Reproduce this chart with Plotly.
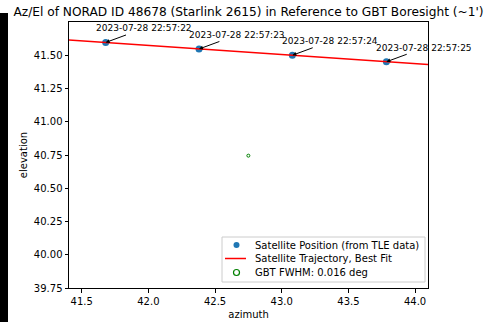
import numpy as np
import plotly.graph_objects as go

# ---- data ----
sat_az = [41.68, 42.38, 43.08, 43.785]
sat_el = [41.596, 41.547, 41.50, 41.451]
timestamps = ["2023-07-28 22:57:22", "2023-07-28 22:57:23",
              "2023-07-28 22:57:24", "2023-07-28 22:57:25"]
gbt_az = [42.75]
gbt_el = [40.745]
fwhm_deg = 0.016
x_range = [41.405, 44.097]
y_range = [39.75, 41.75]
x_ticks = [41.5, 42.0, 42.5, 43.0, 43.5, 44.0]
y_ticks = [39.75, 40.00, 40.25, 40.50, 40.75, 41.00, 41.25, 41.50]
legend_labels = ["Satellite Position (from TLE data)",
                 "Satellite Trajectory, Best Fit",
                 f"GBT FWHM: {fwhm_deg} deg"]

# best-fit trajectory
coef = np.polyfit(sat_az, sat_el, 1)
fit_x = np.array([41.3, 44.2])
fit_y = np.polyval(coef, fit_x)

FONT = "DejaVu Sans"
BLUE, RED, GREEN = "#1f77b4", "red", "green"
fig = go.Figure()

fig.add_trace(go.Scatter(x=sat_az, y=sat_el, mode="markers",
                         marker=dict(color=BLUE, size=7),
                         name=legend_labels[0]))
fig.add_trace(go.Scatter(x=fit_x, y=fit_y, mode="lines",
                         line=dict(color=RED, width=1.5),
                         name=legend_labels[1]))
fig.add_trace(go.Scatter(x=gbt_az, y=gbt_el, mode="markers",
                         marker=dict(symbol="circle-open", color=GREEN, size=3,
                                     line=dict(width=1, color=GREEN)),
                         name=legend_labels[2]))

for x, y, t in zip(sat_az, sat_el, timestamps):
    fig.add_annotation(x=x, y=y, text=t, showarrow=True, ax=38, ay=-14,
                       arrowhead=2, arrowsize=0.8, arrowwidth=1, arrowcolor="black",
                       font=dict(family=FONT, size=9, color="black"))

# layout geometry (pixels)
W, H = 487, 322
L, R, T, B = 69, 59, 22, 34
pw, ph = W - L - R, H - T - B


def px(xp):
    return (xp - L) / pw


def py(yp):
    return (H - B - yp) / ph


# black strip on left edge
fig.add_shape(type="rect", xref="paper", yref="paper",
              x0=px(0), x1=px(8), y0=py(323), y1=py(13),
              fillcolor="black", line=dict(width=0), layer="above")

# manual legend (matplotlib style)
fig.add_shape(type="rect", xref="paper", yref="paper",
              x0=px(222), x1=px(425), y0=py(282), y1=py(237),
              fillcolor="rgba(255,255,255,0.8)", line=dict(color="#cccccc", width=1),
              layer="above")
rows_y = [245, 258.5, 272.5]
mx = 236.5
fig.add_shape(type="circle", xref="paper", yref="paper", xsizemode="pixel", ysizemode="pixel",
              xanchor=px(mx), yanchor=py(rows_y[0]), x0=-3, x1=3, y0=-3, y1=3,
              fillcolor=BLUE, line=dict(width=0), layer="above")
fig.add_shape(type="line", xref="paper", yref="paper",
              x0=px(225), x1=px(246), y0=py(rows_y[1]), y1=py(rows_y[1]),
              line=dict(color=RED, width=1.5), layer="above")
fig.add_shape(type="circle", xref="paper", yref="paper", xsizemode="pixel", ysizemode="pixel",
              xanchor=px(mx), yanchor=py(rows_y[2]), x0=-3, x1=3, y0=-3, y1=3,
              fillcolor="white", line=dict(color=GREEN, width=1.2), layer="above")
for lab, ry in zip(legend_labels, rows_y):
    fig.add_annotation(xref="paper", yref="paper", x=px(253), y=py(ry), text=lab,
                       showarrow=False, xanchor="left", yanchor="middle",
                       font=dict(family=FONT, size=10, color="black"))

axis_common = dict(showline=True, linecolor="black", linewidth=1, mirror=True,
                   ticks="outside", ticklen=3.5, tickwidth=1, tickcolor="black",
                   showgrid=False, zeroline=False, automargin=False,
                   tickfont=dict(family=FONT, size=10, color="black"))

fig.update_layout(
    width=W, height=H,
    margin=dict(l=L, r=R, t=T, b=B, autoexpand=False),
    paper_bgcolor="white", plot_bgcolor="white",
    showlegend=False,
    title=dict(text="Az/El of NORAD ID 48678 (Starlink 2615) in Reference to GBT Boresight (~1')",
               x=(L + pw / 2) / W, xanchor="center", y=1 - 12 / H, yanchor="middle",
               font=dict(family=FONT, size=12.2, color="black")),
    xaxis=dict(range=x_range, tickvals=x_ticks, tickformat=".1f",
               title=dict(text="azimuth", font=dict(family=FONT, size=10, color="black"), standoff=5),
               **axis_common),
    yaxis=dict(range=y_range, tickvals=y_ticks, tickformat=".2f",
               title=dict(text="elevation", font=dict(family=FONT, size=10, color="black"), standoff=4),
               **axis_common),
)

fig.write_html("out.html")
